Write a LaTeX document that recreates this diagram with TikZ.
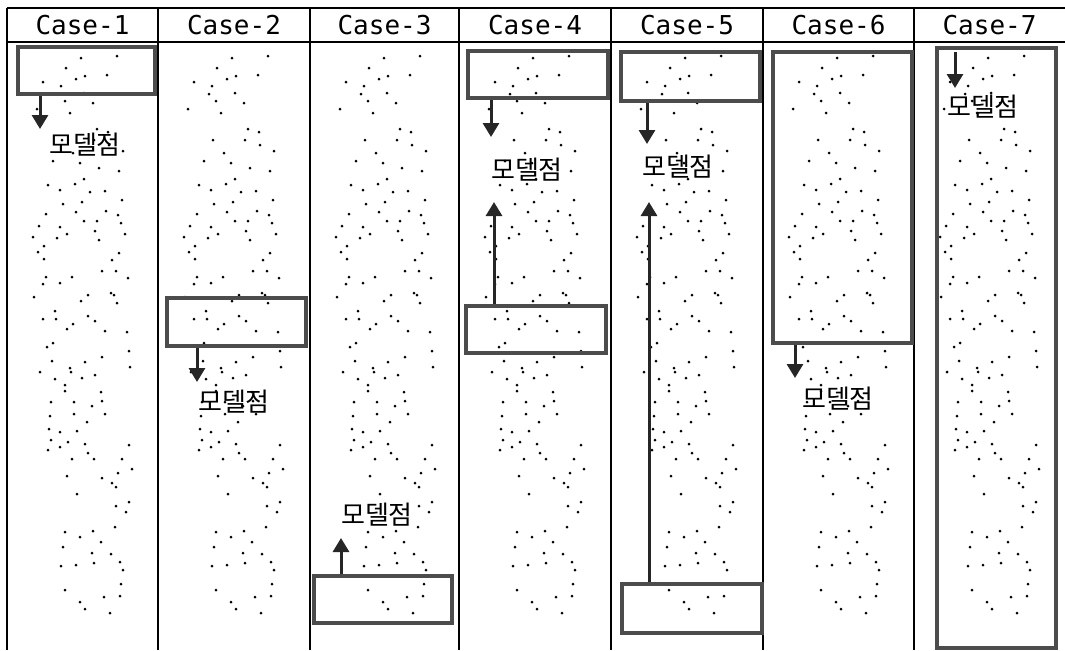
\documentclass[tikz,border=0pt]{standalone}
\usepackage{fontspec}
\newfontfamily\kofont{Noto Sans CJK KR}
\newfontfamily\casefont{DejaVu Sans Mono}
\usetikzlibrary{arrows.meta}

% point cloud of one column: x from the column line, y from the top
\def\cloudpts{74/58, 110/56, 59/68, 78/76, 69/79, 100/75, 36/82, 54/86, 51/94, 77/93,
  58/101, 86/103, 30/109, 63/113, 90/129, 101/132, 55/140, 87/140, 102/145, 116/151,
  66/153, 46/161, 73/163, 92/168, 112/171, 77/179, 41/185, 68/184, 53/190, 83/192,
  98/191, 115/200, 56/204, 75/202, 69/212, 99/211, 39/214, 111/215, 77/221, 90/221,
  114/223, 32/226, 53/227, 60/234, 88/231, 26/237, 50/238, 118/234, 92/240, 37/246,
  31/252, 112/253, 37/259, 105/260, 95/271, 109/271, 39/277, 65/277, 121/278, 36/284,
  53/283, 27/297, 81/295, 104/293, 107/295, 74/301, 110/303, 48/311, 81/316, 88/321,
  36/319, 49/319, 66/324, 60/329, 98/331, 120/332, 46/343, 40/347, 122/351, 95/357,
  45/361, 78/362, 63/368, 33/372, 64/372, 123/367, 48/379, 75/378, 88/375, 58/385,
  58/391, 94/392, 44/402, 67/402, 95/401, 85/406, 43/416, 67/414, 98/414, 80/422,
  42/429, 53/432, 70/431, 44/440, 61/442, 78/444, 41/450, 53/447, 81/453, 122/445,
  65/459, 87/459, 115/459, 111/473, 125/469, 60/476, 95/478, 105/483, 109/487, 70/494,
  122/502, 119/512, 109/506, 108/527, 58/532, 86/531, 73/537, 94/542, 56/547, 85/553,
  104/554, 113/562, 54/566, 69/565, 87/563, 116/570, 58/590, 114/584, 113/596, 97/597,
  73/602, 78/609, 103/613}

\begin{document}
\begin{tikzpicture}[x=0.5pt, y=-0.5pt,
    grid/.style={line width=0.75pt},
    roi/.style 2 args={draw=black!70, line width=2pt, minimum width=#1*0.5pt,
      minimum height=#2*0.5pt, inner sep=0pt},
    pointer/.style={draw=black!85, line width=1.5pt, -{Triangle[length=7pt,width=8pt]}},
    casehead/.style={font=\casefont\fontsize{13}{13}\selectfont},
    model/.style={font=\kofont\fontsize{13}{13}\selectfont, inner sep=0pt}]
  \useasboundingbox (0,0) rectangle (1065,650);

  % table
  \draw [grid] (7,8) -- (1065,8);
  \draw [grid] (7,42) -- (1065,42);
  \foreach \cx in {7,158,310,459,611,763,914}
    \draw [grid] (\cx,8) -- (\cx,650);
  \foreach \cx/\n [count=\i] in {82.5/1,234/2,384.5/3,535/4,687/5,838.5/6,989.5/7}
    \node [casehead] (head\i) at (\cx,25) {Case-\n};

  % dots
  \foreach \cx in {7,158,310,459,611,763,914}
    \foreach \px/\py in \cloudpts
      \fill (\cx+\px,\py) circle (0.75pt);

  % windows
  \node [roi={137}{47}] (box1) at (86.5,70.5) {};
  \node [roi={139}{48}] (box2) at (236.5,322) {};
  \node [roi={138}{47}] (box3) at (383,599.5) {};
  \node [roi={140}{47}] (box4a) at (537.5,74.5) {};
  \node [roi={140}{47}] (box4b) at (536,329.5) {};
  \node [roi={139}{49}] (box5a) at (690.5,76.5) {};
  \node [roi={140}{49}] (box5b) at (692,608.5) {};
  \node [roi={139}{291}] (box6) at (842.5,197.5) {};
  \node [roi={119}{600}] (box7) at (996.5,348) {};

  % labels
  \node [model] (lbl1) at (85,145) {모델점};
  \node [model] (lbl2) at (234,402) {모델점};
  \node [model] (lbl3) at (377,515) {모델점};
  \node [model] (lbl4) at (527,170) {모델점};
  \node [model] (lbl5) at (678,167) {모델점};
  \node [model] (lbl6) at (838,399) {모델점};
  \node [model] (lbl7) at (983,107) {모델점};

  % arrows
  \coordinate (tip1) at (40,129);
  \coordinate (tip2) at (197,382);
  \coordinate (tip3) at (341,538);
  \coordinate (tip4a) at (491,137);
  \coordinate (tip4b) at (494,202);
  \coordinate (tip5a) at (647,144);
  \coordinate (tip5b) at (649,202);
  \coordinate (tip6) at (795,378);
  \coordinate (tip7) at (955,88);
  \draw [pointer] (box1.south -| tip1) -- (tip1);
  \draw [pointer] (box2.south -| tip2) -- (tip2);
  \draw [pointer] (box3.north -| tip3) -- (tip3);
  \draw [pointer] (box4a.south -| tip4a) -- (tip4a);
  \draw [pointer] (box4b.north -| tip4b) -- (tip4b);
  \draw [pointer] (box5a.south -| tip5a) -- (tip5a);
  \draw [pointer] (box5b.north -| tip5b) -- (tip5b);
  \draw [pointer] (box6.south -| tip6) -- (tip6);
  \draw [pointer, shorten <=3pt] (box7.north -| tip7) -- (tip7);
\end{tikzpicture}
\end{document}
